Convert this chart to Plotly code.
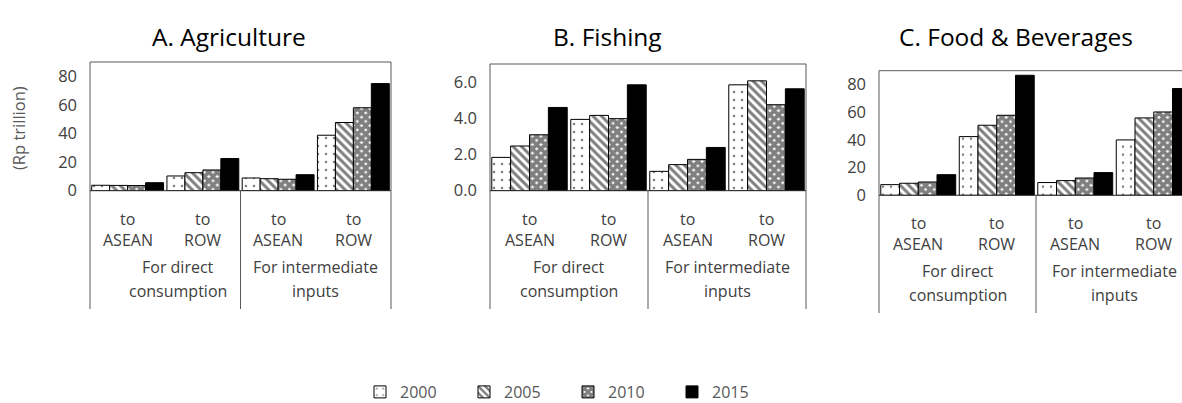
import plotly.graph_objects as go

# Export values (Rp trillion) by year, across the four destination groups:
# [direct to ASEAN, direct to ROW, intermediate to ASEAN, intermediate to ROW]
years = ["2000", "2005", "2010", "2015"]
group_top = ["to<br>ASEAN", "to<br>ROW", "to<br>ASEAN", "to<br>ROW"]
group_bottom = ["For direct<br>consumption", "For intermediate<br>inputs"]

agriculture = {
    "2000": [3.8, 10.3, 8.9, 38.8],
    "2005": [3.7, 12.6, 8.4, 47.7],
    "2010": [3.6, 14.5, 8.0, 58.0],
    "2015": [5.6, 22.5, 11.2, 74.9],
}
fishing = {
    "2000": [1.84, 3.94, 1.07, 5.85],
    "2005": [2.47, 4.16, 1.44, 6.07],
    "2010": [3.09, 3.98, 1.73, 4.75],
    "2015": [4.60, 5.85, 2.39, 5.63],
}
food_beverages = {
    "2000": [7.7, 42.4, 9.2, 40.0],
    "2005": [8.7, 50.6, 10.6, 55.9],
    "2010": [9.6, 57.8, 12.5, 60.2],
    "2015": [14.9, 86.7, 16.4, 77.1],
}

W, H = 1182, 403
FONT = "Open Sans"
GREY = "#595959"
TEXT = "#404040"


def px(p):
    return p / W


def py(p):
    return 1 - p / H


# panel geometry in pixels
panels = [
    dict(name="A. Agriculture", data=agriculture, left=90, right=391, top=62, zero=190.7,
         bottom=309, ymax=90, dtick=20, fmt="d", title_x=229, frame_right=True, direct_x=0.67),
    dict(name="B. Fishing", data=fishing, left=490, right=806, top=64, zero=190.7,
         bottom=309, ymax=7, dtick=2, fmt=".1f", title_x=607, frame_right=True, direct_x=0.5),
    dict(name="C. Food & Beverages", data=food_beverages, left=879, right=1193, top=70.7,
         zero=195.3, bottom=313, ymax=90, dtick=20, fmt="d", title_x=1016, frame_right=False,
         direct_x=0.5),
]

styles = {
    "2000": dict(color="white", pattern=dict(shape=".", bgcolor="white", fgcolor="black",
                                             size=8, solidity=0.08)),
    "2005": dict(color="white", pattern=dict(shape="\\", bgcolor="white", fgcolor="black",
                                             size=6, solidity=0.5)),
    "2010": dict(color="white", pattern=dict(shape="x", bgcolor="white", fgcolor="black",
                                             size=6, solidity=0.85)),
    "2015": dict(color="black"),
}

fig = go.Figure()
shapes = []
annotations = []
layout_axes = {}
xpos = [0, 1, 2, 3]

for k, p in enumerate(panels):
    sfx = "" if k == 0 else str(k + 1)
    unit = (p["right"] - p["left"]) / 4.0
    dom_right = min(p["right"], W)
    xmax = -0.5 + (dom_right - p["left"]) / unit

    for yr in years:
        fig.add_trace(go.Bar(
            x=xpos, y=p["data"][yr], name=yr,
            xaxis="x" + sfx, yaxis="y" + sfx,
            legendgroup=yr, showlegend=(k == 0),
            marker=dict(line=dict(color="black", width=1), **styles[yr]),
        ))

    layout_axes["xaxis" + sfx] = dict(
        domain=[px(p["left"]), px(dom_right)], range=[-0.5, xmax],
        anchor="y" + sfx, showticklabels=False, showgrid=False, zeroline=False,
        showline=False, ticks="", fixedrange=True,
    )
    layout_axes["yaxis" + sfx] = dict(
        domain=[py(p["zero"]), py(p["top"])], range=[0, p["ymax"]],
        anchor="x" + sfx, dtick=p["dtick"], tick0=0, tickformat=p["fmt"],
        showgrid=False, zeroline=False, showline=False, ticks="",
        ticklabelstandoff=12,
        tickfont=dict(family=FONT, size=16.5, color=TEXT),
    )

    # frame lines
    line = dict(color=GREY, width=1)
    L, R = px(p["left"]), px(min(p["right"], W + 5))
    shapes.append(dict(type="line", xref="paper", yref="paper", x0=L, x1=L,
                       y0=py(p["bottom"]), y1=py(p["top"]), line=line))
    shapes.append(dict(type="line", xref="paper", yref="paper", x0=L, x1=R,
                       y0=py(p["top"]), y1=py(p["top"]), line=line))
    shapes.append(dict(type="line", xref="paper", yref="paper", x0=L, x1=R,
                       y0=py(p["zero"]), y1=py(p["zero"]), line=dict(color="#262626", width=1)))
    if p["frame_right"]:
        shapes.append(dict(type="line", xref="paper", yref="paper", x0=R, x1=R,
                           y0=py(p["bottom"]), y1=py(p["top"]), line=line))
    # divider between the two groups
    xd = p["left"] + 2 * unit
    shapes.append(dict(type="line", xref="paper", yref="paper", x0=px(xd), x1=px(xd),
                       y0=py(p["bottom"]), y1=py(p["zero"]), line=line))

    # category labels
    for i, lab in enumerate(group_top):
        a, b = lab.split("<br>")
        for txt, off in ((a, 28), (b, 49)):
            annotations.append(dict(
                text=txt, x=i, y=py(p["zero"] + off), xref="x" + sfx, yref="paper",
                showarrow=False, xanchor="center", yanchor="middle",
                font=dict(family=FONT, size=16, color=TEXT)))
    for j, lab in enumerate(group_bottom):
        a, b = lab.split("<br>")
        xc = p["direct_x"] if j == 0 else 2.5
        for txt, off in ((a, 76), (b, 100)):
            annotations.append(dict(
                text=txt, x=xc, y=py(p["zero"] + off), xref="x" + sfx, yref="paper",
                showarrow=False, xanchor="center", yanchor="middle",
                font=dict(family=FONT, size=16, color=TEXT)))

    # panel title
    annotations.append(dict(
        text=p["name"], x=px(p["title_x"]), y=py(37), xref="paper", yref="paper",
        showarrow=False, xanchor="center", yanchor="middle",
        font=dict(family=FONT, size=24.5, color="black")))

# y-axis title
annotations.append(dict(
    text="(Rp trillion)", x=px(18), y=py(128), xref="paper", yref="paper",
    showarrow=False, textangle=-90, xanchor="center", yanchor="middle",
    font=dict(family=FONT, size=16.5, color=GREY)))

fig.update_layout(
    width=W, height=H,
    margin=dict(l=0, r=0, t=0, b=0, autoexpand=False),
    paper_bgcolor="white", plot_bgcolor="white",
    barmode="group", bargap=0.045, bargroupgap=0,
    shapes=shapes, annotations=annotations,
    legend=dict(orientation="h", x=px(360), y=py(392), xanchor="left", yanchor="middle",
                font=dict(family=FONT, size=16, color=GREY),
                entrywidth=59, entrywidthmode="pixels", itemwidth=30,
                bgcolor="rgba(0,0,0,0)"),
    **layout_axes,
)

fig.write_html("out.html")
